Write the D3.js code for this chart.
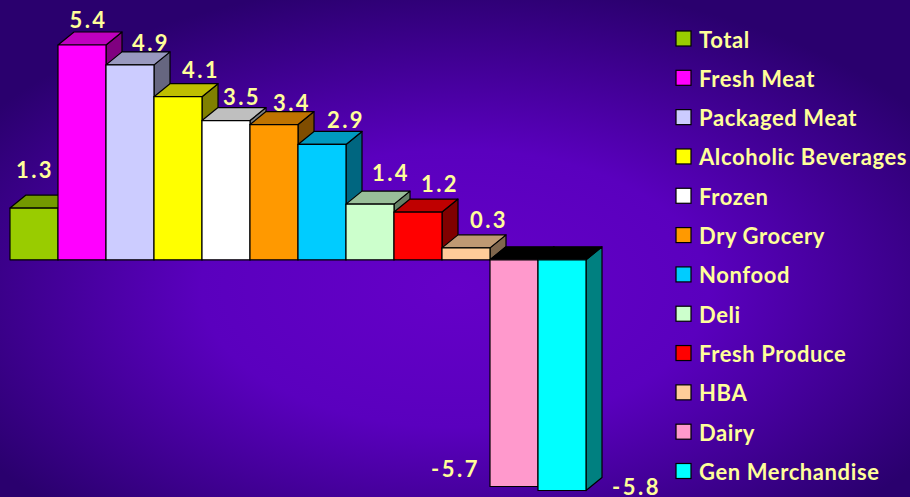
<!DOCTYPE html>
<html><head><meta charset="utf-8">
<script src="https://cdn.jsdelivr.net/npm/d3@7"></script>
<style>html,body{margin:0;padding:0;background:#3a0090;}svg{display:block;}</style>
</head><body>
<script>
const categories = ["Total","Fresh Meat","Packaged Meat","Alcoholic Beverages","Frozen","Dry Grocery","Nonfood","Deli","Fresh Produce","HBA","Dairy","Gen Merchandise"];
const values = [1.3,5.4,4.9,4.1,3.5,3.4,2.9,1.4,1.2,0.3,-5.7,-5.8];
const colors = ["#99CC00","#FF00FF","#CCCCFF","#FFFF00","#FFFFFF","#FF9900","#00CCFF","#CCFFCC","#FF0000","#FFCC99","#FF99CC","#00FFFF"];

const W = 910, H = 497;
const svg = d3.select("body").append("svg").attr("width", W).attr("height", H);
const defs = svg.append("defs");
const rg = defs.append("radialGradient").attr("id","bg").attr("cx","50%").attr("cy","58%").attr("r","62%");
rg.append("stop").attr("offset","0%").attr("stop-color","#6500C8");
rg.append("stop").attr("offset","45%").attr("stop-color","#5A00BE");
rg.append("stop").attr("offset","100%").attr("stop-color","#2A006E");
svg.append("rect").attr("width",W).attr("height",H).attr("fill","url(#bg)");

const x = d3.scaleBand().domain(categories).range([10, 586]).padding(0);
const y = d3.scaleLinear().domain([-5.8, 5.4]).range([490.5, 45]);
const dx = 16, dy = 13;
const bw = x.bandwidth();
const y0 = y(0);

function shade(c, k){ const o = d3.rgb(c); return d3.rgb(o.r*k, o.g*k, o.b*k).formatHex(); }

const g = svg.append("g").attr("stroke","#000").attr("stroke-width",1.2).attr("stroke-linejoin","round");
values.forEach((v,i)=>{
  const c = categories[i];
  const x0 = x(c), x1 = x0 + bw;
  const yt = Math.min(y(v), y0), yb = Math.max(y(v), y0);
  const neg = v < 0;
  g.append("path").attr("d", `M${x1},${yt} L${x1+dx},${yt-dy} L${x1+dx},${yb-dy} L${x1},${yb} Z`)
    .attr("fill", shade(colors[i], 0.5));
  g.append("path").attr("d", `M${x0},${yt} L${x0+dx},${yt-dy} L${x1+dx},${yt-dy} L${x1},${yt} Z`)
    .attr("fill", neg ? "#000" : shade(colors[i], 0.75));
  g.append("rect").attr("x", x0).attr("y", yt).attr("width", bw).attr("height", yb-yt)
    .attr("fill", colors[i]);
});

// label nudges (layout only): horizontal shift from bar centre, gap above bar top
const labelShift = [1, 6.5, 21, 23, 16, 18, 24, 21, 22, 23];
const labelGap = [17, 4, 1, 6, 3, 1, 3, 10, 7, 7];

const font = "'Comic Sans MS','Lato','DejaVu Sans',sans-serif";
const lab = svg.append("g").attr("fill","#FFFF99").attr("font-family",font).attr("font-weight","bold").attr("font-size",22);
values.forEach((v,i)=>{
  const c = categories[i];
  const x0 = x(c), x1 = x0 + bw;
  if (v >= 0) {
    lab.append("text").attr("x", x0 + bw/2 + labelShift[i]).attr("y", y(v) - dy - labelGap[i])
      .attr("text-anchor","middle").attr("letter-spacing",2.5).text(v.toFixed(1));
  } else if (i === values.length - 2) {
    lab.append("text").attr("x", x0 - 10).attr("y", y(v) - 10)
      .attr("text-anchor","end").attr("letter-spacing",2.5).text(v.toFixed(1));
  } else {
    lab.append("text").attr("x", x1 + dx + 10).attr("y", y(v) + 4)
      .attr("text-anchor","start").attr("letter-spacing",2.5).text(v.toFixed(1));
  }
});

const leg = svg.append("g");
const ly = d3.scaleLinear().domain([0, categories.length-1]).range([38.5, 471]);
categories.forEach((c,i)=>{
  leg.append("rect").attr("x",676).attr("y", ly(i)-7.5).attr("width",15).attr("height",15)
    .attr("fill", colors[i]).attr("stroke","#000").attr("stroke-width",1.2);
  leg.append("text").attr("x",699).attr("y", ly(i)+9).attr("fill","#FFFF99")
    .attr("font-family",font).attr("font-weight","bold").attr("font-size",22)
    .attr("letter-spacing",0.6).text(c);
});
</script>
</body></html>
